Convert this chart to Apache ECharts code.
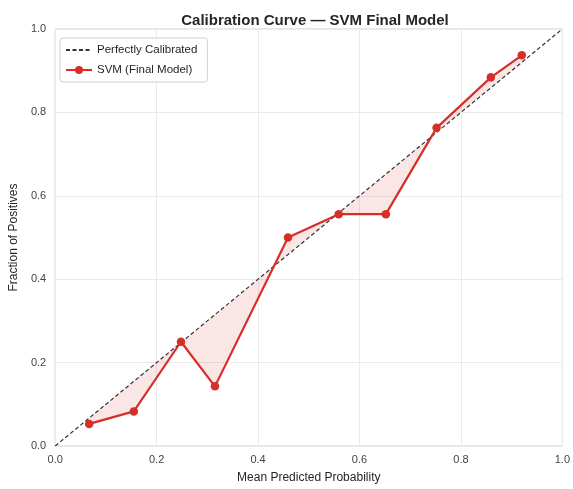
<!DOCTYPE html>
<html>
<head>
<meta charset="utf-8">
<script src="https://cdn.jsdelivr.net/npm/echarts@6/dist/echarts.min.js"></script>
<style>
  html, body { margin: 0; padding: 0; background: #fff; }
  #chart { width: 573px; height: 489px; }
</style>
</head>
<body>
<div id="chart"></div>
<script>
// mean predicted probability per bin
const meanPred = [0.067, 0.155, 0.248, 0.315, 0.459, 0.559, 0.652, 0.752, 0.859, 0.920];
// fraction of positives per bin
const fracPos = [0.053, 0.083, 0.250, 0.143, 0.500, 0.556, 0.556, 0.763, 0.884, 0.937];
const diagX = [0, 1];
const ticks = [0, 0.2, 0.4, 0.6, 0.8, 1.0];

const RED = '#d62f28';
const FONT = 'Liberation Sans, Arial, sans-serif';

const chart = echarts.init(document.getElementById('chart'), null, { renderer: 'canvas' });

const curve = meanPred.map((x, i) => [x, fracPos[i]]);
const diag = diagX.map(x => [x, x]);

// shaded gap between the curve and the diagonal
function renderGap(params, api) {
  const pts = [];
  for (let i = 0; i < meanPred.length; i++) pts.push(api.coord([meanPred[i], fracPos[i]]));
  for (let i = meanPred.length - 1; i >= 0; i--) pts.push(api.coord([meanPred[i], meanPred[i]]));
  return {
    type: 'polygon',
    shape: { points: pts },
    style: { fill: 'rgba(214,47,40,0.12)', stroke: 'none' },
    silent: true
  };
}

const option = {
  backgroundColor: '#fff',
  animation: false,
  title: {
    text: 'Calibration Curve — SVM Final Model',
    left: 310,
    textAlign: 'center',
    top: 8,
    textStyle: { fontFamily: FONT, fontSize: 15, fontWeight: 'bold', color: '#262626' }
  },
  legend: {
    orient: 'vertical',
    left: 60,
    top: 38,
    padding: [6, 10, 6, 5],
    itemWidth: 26,
    itemHeight: 10,
    itemGap: 8,
    backgroundColor: '#fff',
    borderColor: '#d0d0d0',
    borderWidth: 1,
    borderRadius: 3,
    textStyle: { fontFamily: FONT, fontSize: 11.5, color: '#262626' },
    data: [
      { name: 'Perfectly Calibrated', itemStyle: { color: 'rgba(0,0,0,0)', borderWidth: 0 } },
      'SVM (Final Model)'
    ]
  },
  grid: {
    left: 55, right: 8, top: 29, bottom: 38,
    show: true,
    borderColor: '#cccccc',
    borderWidth: 1
  },
  xAxis: {
    type: 'value',
    min: 0, max: 1, interval: 0.2,
    name: 'Mean Predicted Probability',
    nameLocation: 'middle',
    nameGap: 26,
    nameTextStyle: { fontFamily: FONT, fontSize: 12, color: '#262626' },
    axisLine: { show: false },
    axisTick: { show: false },
    axisLabel: {
      fontFamily: FONT, fontSize: 11, color: '#444', margin: 8,
      formatter: v => v.toFixed(1)
    },
    splitLine: { lineStyle: { color: '#ebebeb', width: 1 } }
  },
  yAxis: {
    type: 'value',
    min: 0, max: 1, interval: 0.2,
    name: 'Fraction of Positives',
    nameLocation: 'middle',
    nameGap: 26,
    nameTextStyle: { fontFamily: FONT, fontSize: 12, color: '#262626' },
    axisLine: { show: false },
    axisTick: { show: false },
    axisLabel: {
      fontFamily: FONT, fontSize: 11, color: '#444', margin: 9,
      formatter: v => v.toFixed(1)
    },
    splitLine: { lineStyle: { color: '#ebebeb', width: 1 } }
  },
  series: [
    {
      type: 'custom',
      name: 'gap',
      renderItem: renderGap,
      data: [0],
      z: 1,
      silent: true
    },
    {
      name: 'Perfectly Calibrated',
      type: 'line',
      data: diag,
      symbol: 'none',
      color: '#333',
      lineStyle: { color: '#333', width: 1.2, type: [4, 2.5] },
      z: 2
    },
    {
      name: 'SVM (Final Model)',
      type: 'line',
      data: curve,
      symbol: 'circle',
      symbolSize: 8.5,
      color: RED,
      itemStyle: { color: RED },
      lineStyle: { color: RED, width: 2.2 },
      z: 3
    }
  ]
};

chart.setOption(option);
</script>
</body>
</html>
